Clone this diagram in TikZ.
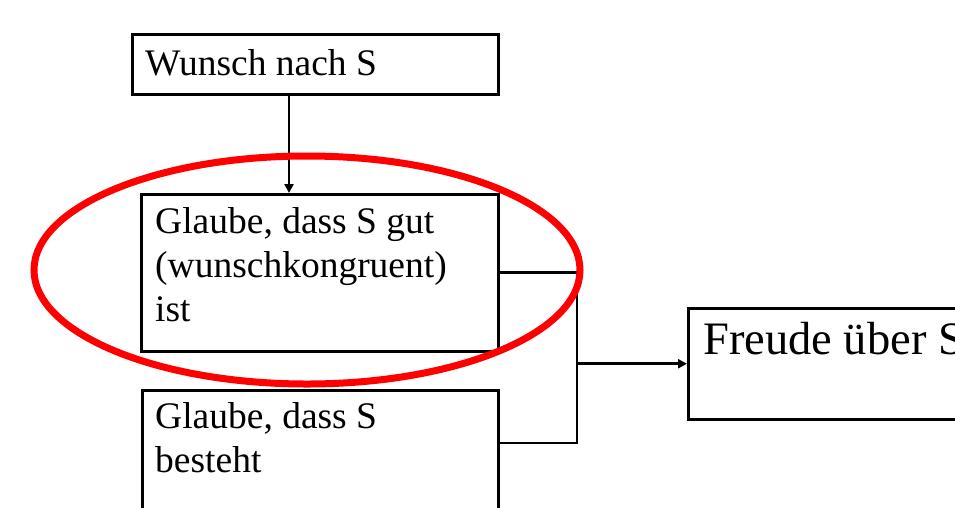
\documentclass[tikz,border=0pt]{standalone}
\usepackage{fontspec}
\setmainfont{Liberation Serif}
\usetikzlibrary{arrows.meta}
\begin{document}
\begin{tikzpicture}[x=1pt,y=-1pt,
  box/.style={draw,line width=2.5pt,rectangle,inner sep=0pt,anchor=north west},
  txt/.style={inner sep=0pt,anchor=north west,align=left,
    font=\fontsize{37.5}{44}\selectfont},
  big/.style={inner sep=0pt,anchor=north west,align=left,
    font=\fontsize{46.5}{52}\selectfont},
  conn/.style={line width=2.7pt},
  arr/.style={line width=2.7pt,-{Triangle[length=9pt,width=9pt]}},
  ring/.style={draw=red,line width=7pt}]
  \useasboundingbox (0,0) rectangle (955,507);
  \clip (0,0) rectangle (955,507);
  \fill[white] (0,0) rectangle (955,507);

  % boxes
  \node[box,minimum width=366pt,minimum height=60pt] (wunsch) at (131,33) {};
  \node[box,minimum width=357pt,minimum height=157pt] (gut) at (140,193) {};
  \node[box,minimum width=356pt,minimum height=160pt] (besteht) at (141,389) {};
  \node[box,minimum width=300pt,minimum height=111pt] (freude) at (687,307) {};

  % texts
  \node[txt] (twunsch) at (145,49) {Wunsch nach S};
  \node[txt] (tgut) at (155,207) {Glaube, dass S gut\\(wunschkongruent)\\ist};
  \node[txt] (tbesteht) at (155,402) {Glaube, dass S\\besteht};
  \node[big] (tfreude) at (703,322) {Freude über S};

  % connectors
  \coordinate (down) at (289,0);
  \coordinate (join) at (577,0);
  \coordinate (lowout) at (497,443);
  \draw[arr] (wunsch.south -| down) -- (gut.north -| down);
  \draw[conn] (gut.east) -| (join |- lowout) -- (lowout);
  \draw[arr] (join |- freude.west) -- (freude.west);

  % highlight
  \draw[ring] (307,270) ellipse [x radius=273, y radius=114];
\end{tikzpicture}
\end{document}
